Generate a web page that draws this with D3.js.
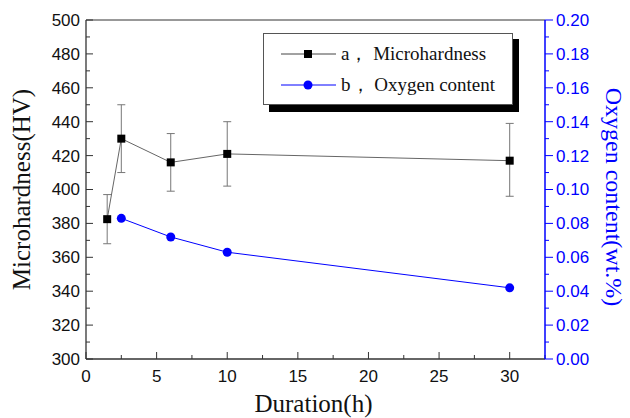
<!DOCTYPE html>
<html><head><meta charset="utf-8">
<script src="https://cdn.jsdelivr.net/npm/d3@7"></script>
<style>body{margin:0;background:#fff}svg{display:block}</style>
</head><body>
<script>
const hardX = [1.5, 2.5, 6, 10, 30];
const hardY = [382.5, 430, 416, 421, 417];
const hardLo = [368, 410, 399, 402, 396];
const hardHi = [397, 450, 433, 440, 439];
const oxyX = [2.5, 6, 10, 30];
const oxyY = [0.083, 0.072, 0.063, 0.042];
const xTicks = [0, 5, 10, 15, 20, 25, 30];
const yTicks = [300, 320, 340, 360, 380, 400, 420, 440, 460, 480, 500];
const y2Ticks = [0, 0.02, 0.04, 0.06, 0.08, 0.10, 0.12, 0.14, 0.16, 0.18, 0.20];
const legendLabels = ["a\uFF0C Microhardness", "b\uFF0C Oxygen content"];

const W = 630, H = 418;
const L = 86, R = 545, T = 20, B = 359;
const svg = d3.select("body").append("svg").attr("width", W).attr("height", H);
const x = d3.scaleLinear().domain([0, 32.5]).range([L, R]);
const y = d3.scaleLinear().domain([300, 500]).range([B, T]);
const y2 = d3.scaleLinear().domain([0, 0.2]).range([B, T]);
const blue = "#0000ff";
const tickFont = "Liberation Sans";
const serif = "Liberation Serif";

// top line
svg.append("line").attr("x1", L).attr("x2", R).attr("y1", T).attr("y2", T).attr("stroke", "#333").attr("stroke-width", 1);

// bottom axis (ticks inward)
const xMinor = d3.range(0, 32.6, 2.5);
svg.append("g").selectAll("line").data(xMinor).join("line")
  .attr("x1", d => x(d)).attr("x2", d => x(d)).attr("y1", B)
  .attr("y2", d => (d % 5 === 0) ? B - 7 : B - 4).attr("stroke", "#333");
svg.append("line").attr("x1", L).attr("x2", R).attr("y1", B).attr("y2", B).attr("stroke", "#333").attr("stroke-width", 1.3);
svg.append("g").selectAll("text").data(xTicks).join("text")
  .attr("x", d => x(d)).attr("y", B + 23).attr("text-anchor", "middle")
  .attr("font-family", tickFont).attr("font-size", 17).attr("fill", "#111").text(d => d);

// left axis (ticks inward)
const yMinor = d3.range(300, 501, 10);
svg.append("g").selectAll("line").data(yMinor).join("line")
  .attr("x1", L).attr("x2", d => (d % 20 === 0) ? L + 7 : L + 4)
  .attr("y1", d => y(d)).attr("y2", d => y(d)).attr("stroke", "#333");
svg.append("line").attr("x1", L).attr("x2", L).attr("y1", T).attr("y2", B).attr("stroke", "#333").attr("stroke-width", 1.3);
svg.append("g").selectAll("text").data(yTicks).join("text")
  .attr("x", L - 6).attr("y", d => y(d)).attr("dy", "0.35em").attr("text-anchor", "end")
  .attr("font-family", tickFont).attr("font-size", 17).attr("fill", "#111").text(d => d);

// right axis (ticks outward), blue
const y2Minor = d3.range(0, 0.2001, 0.01);
svg.append("g").selectAll("line").data(y2Minor).join("line")
  .attr("x1", R).attr("x2", (d, i) => (i % 2 === 0) ? R + 8 : R + 4)
  .attr("y1", d => y2(d)).attr("y2", d => y2(d)).attr("stroke", blue);
svg.append("line").attr("x1", R).attr("x2", R).attr("y1", T).attr("y2", B).attr("stroke", blue).attr("stroke-width", 1.5);
svg.append("g").selectAll("text").data(y2Ticks).join("text")
  .attr("x", R + 11).attr("y", d => y2(d)).attr("dy", "0.35em").attr("text-anchor", "start")
  .attr("font-family", tickFont).attr("font-size", 17).attr("fill", blue).text(d => d.toFixed(2));

// axis titles
svg.append("text").attr("transform", `translate(30,${(T + B) / 2}) rotate(-90)`)
  .attr("text-anchor", "middle").attr("font-family", serif).attr("font-size", 25).attr("fill", "#111")
  .text("Microhardness(HV)");
svg.append("text").attr("transform", `translate(606,197) rotate(90)`)
  .attr("text-anchor", "middle").attr("font-family", serif).attr("font-size", 24).attr("fill", blue)
  .text("Oxygen content(wt.%)");
svg.append("text").attr("x", (L + R) / 2 - 2).attr("y", 412).attr("text-anchor", "middle")
  .attr("font-family", serif).attr("font-size", 25).attr("fill", "#111").text("Duration(h)");

// microhardness series
const hard = hardX.map((d, i) => ({ x: d, y: hardY[i], lo: hardLo[i], hi: hardHi[i] }));
const eb = svg.append("g").attr("stroke", "#777").attr("stroke-width", 1);
hard.forEach(d => {
  eb.append("line").attr("x1", x(d.x)).attr("x2", x(d.x)).attr("y1", y(d.lo)).attr("y2", y(d.hi));
  eb.append("line").attr("x1", x(d.x) - 4).attr("x2", x(d.x) + 4).attr("y1", y(d.lo)).attr("y2", y(d.lo));
  eb.append("line").attr("x1", x(d.x) - 4).attr("x2", x(d.x) + 4).attr("y1", y(d.hi)).attr("y2", y(d.hi));
});
svg.append("path").datum(hard).attr("fill", "none").attr("stroke", "#666").attr("stroke-width", 1)
  .attr("d", d3.line().x(d => x(d.x)).y(d => y(d.y)));
svg.append("g").selectAll("rect").data(hard).join("rect")
  .attr("x", d => x(d.x) - 4).attr("y", d => y(d.y) - 4).attr("width", 8).attr("height", 8).attr("fill", "#000");

// oxygen series
const oxy = oxyX.map((d, i) => ({ x: d, y: oxyY[i] }));
svg.append("path").datum(oxy).attr("fill", "none").attr("stroke", blue).attr("stroke-width", 1)
  .attr("d", d3.line().x(d => x(d.x)).y(d => y2(d.y)));
svg.append("g").selectAll("circle").data(oxy).join("circle")
  .attr("cx", d => x(d.x)).attr("cy", d => y2(d.y)).attr("r", 4.5).attr("fill", blue);

// legend
const lg = svg.append("g");
lg.append("rect").attr("x", 269).attr("y", 39).attr("width", 250).attr("height", 73).attr("fill", "#000");
lg.append("rect").attr("x", 263.5).attr("y", 33.5).attr("width", 249).attr("height", 71).attr("fill", "#fff").attr("stroke", "#555").attr("stroke-width", 1);
const rows = [54, 85];
lg.append("line").attr("x1", 281).attr("x2", 336).attr("y1", rows[0]).attr("y2", rows[0]).attr("stroke", "#444");
lg.append("rect").attr("x", 304).attr("y", rows[0] - 4).attr("width", 8).attr("height", 8).attr("fill", "#000");
lg.append("line").attr("x1", 281).attr("x2", 336).attr("y1", rows[1]).attr("y2", rows[1]).attr("stroke", blue);
lg.append("circle").attr("cx", 308).attr("cy", rows[1]).attr("r", 4.5).attr("fill", blue);
lg.selectAll("text.lab").data(legendLabels).join("text").attr("class", "lab")
  .attr("x", 341).attr("y", (d, i) => rows[i]).attr("dy", "0.33em")
  .attr("font-family", serif).attr("font-size", 19).attr("fill", "#111").text(d => d);
</script>
</body></html>
